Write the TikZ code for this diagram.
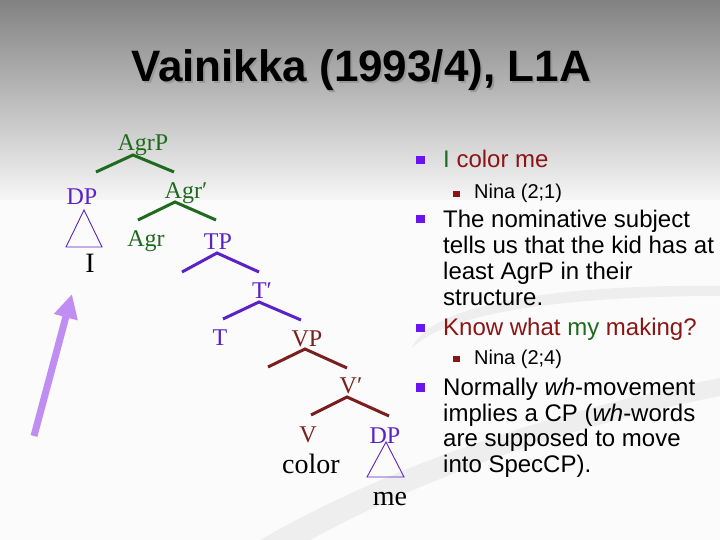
\documentclass[tikz,border=0pt]{standalone}
\usepackage{fontspec}
\setmainfont{Liberation Serif}
\newfontfamily\sansf{Liberation Sans}
\newfontfamily\serf{Liberation Serif}
\usetikzlibrary{arrows.meta}
\definecolor{tgreen}{HTML}{1E6B1E}
\definecolor{tpurple}{HTML}{5B22C6}
\definecolor{tred}{HTML}{7A1E1E}
\definecolor{bpurple}{HTML}{6A14F0}
\definecolor{bred}{HTML}{8B1515}
\definecolor{lilac}{HTML}{C08EF2}
\definecolor{swirlc}{HTML}{EEEEEE}
\definecolor{bgtop}{HTML}{828282}
\definecolor{bgbot}{HTML}{F6F6F6}
\definecolor{bgbase}{HTML}{FBFBFB}
\begin{document}
\begin{tikzpicture}[x=1pt,y=-1pt,
  lab/.style={font=\serf\fontsize{24}{24}\selectfont, inner sep=0pt, anchor=base},
  leaf/.style={font=\serf\fontsize{28}{28}\selectfont, inner sep=0pt, anchor=base, text=black},
  branch/.style={line width=3pt},
  tri/.style={draw=tpurple, line width=0.9pt, line join=miter},
  txt/.style={font=\sansf\fontsize{24}{26}\selectfont, inner sep=0pt, anchor=base west},
  subtxt/.style={font=\sansf\fontsize{20}{22}\selectfont, inner sep=0pt, anchor=base west},
  bul/.style={fill=bpurple, minimum size=8.5pt, inner sep=0pt},
  subbul/.style={fill=bred, minimum size=6.5pt, inner sep=0pt}]
% background
\useasboundingbox (0,0) rectangle (720,540);
\fill[bgbase] (0,0) rectangle (720,540);
\shade[top color=bgtop, bottom color=bgbot] (0,0) rectangle (720,200);
\fill[swirlc] (412,348) .. controls (430,302) and (570,284) .. (720,286) -- (720,296) .. controls (580,296) and (450,310) .. (412,348) -- cycle;
\fill[swirlc] (260,540) .. controls (400,460) and (560,410) .. (720,378) -- (720,396) .. controls (560,428) and (420,480) .. (310,540) -- cycle;
% title
\node[font=\sansf\bfseries\fontsize{44}{44}\selectfont, text=black!40, anchor=base, inner sep=0pt] (titleshadow) at (363,84) {Vainikka (1993/4), L1A};
\node[font=\sansf\bfseries\fontsize{44}{44}\selectfont, text=black, anchor=base, inner sep=0pt] (title) at (361,82) {Vainikka (1993/4), L1A};
% tree labels
\node[lab, text=tgreen] (agrp) at (143,151) {AgrP};
\node[lab, text=tpurple] (dp1) at (82,205) {DP};
\node[lab, text=tgreen] (agrbar) at (186,199) {Agr′};
\node[lab, text=tgreen] (agr) at (146,247) {Agr};
\node[lab, text=tpurple] (tp) at (218,249) {TP};
\node[lab, text=tpurple] (tbar) at (262,298) {T′};
\node[lab, text=tpurple] (t) at (220,345) {T};
\node[lab, text=tred] (vp) at (307,346) {VP};
\node[lab, text=tred] (vbar) at (351,393) {V′};
\node[lab, text=tred] (v) at (308,442) {V};
\node[lab, text=tpurple] (dp2) at (385,443) {DP};
\node[leaf] (i) at (90,272) {I};
\node[leaf] (color) at (311,473) {color};
\node[leaf] (me) at (390,505) {me};
% branch points
\coordinate (agrp-a) at (133,155); \coordinate (agrp-l) at (96,172); \coordinate (agrp-r) at (174,172);
\coordinate (agrbar-a) at (175,202); \coordinate (agrbar-l) at (138,220); \coordinate (agrbar-r) at (216,220);
\coordinate (tp-a) at (217,253); \coordinate (tp-l) at (182,272); \coordinate (tp-r) at (259,272);
\coordinate (tbar-a) at (259,302); \coordinate (tbar-l) at (223,319); \coordinate (tbar-r) at (301,320);
\coordinate (vp-a) at (305,349); \coordinate (vp-l) at (268,367); \coordinate (vp-r) at (347,368);
\coordinate (vbar-a) at (347,397); \coordinate (vbar-l) at (311,415); \coordinate (vbar-r) at (389,416);
\draw[branch, tgreen] (agrp-l) -- (agrp-a) -- (agrp-r);
\draw[branch, tgreen] (agrbar-l) -- (agrbar-a) -- (agrbar-r);
\draw[branch, tpurple] (tp-l) -- (tp-a) -- (tp-r);
\draw[branch, tpurple] (tbar-l) -- (tbar-a) -- (tbar-r);
\draw[branch, tred] (vp-l) -- (vp-a) -- (vp-r);
\draw[branch, tred] (vbar-l) -- (vbar-a) -- (vbar-r);
% triangles
\coordinate (tri1-a) at (84,210); \coordinate (tri1-l) at (66,247); \coordinate (tri1-r) at (102,247);
\draw[tri] (tri1-a) -- (tri1-l) -- (tri1-r) -- cycle;
\coordinate (tri2-a) at (386,442); \coordinate (tri2-l) at (367,477); \coordinate (tri2-r) at (404,477);
\draw[tri] (tri2-a) -- (tri2-l) -- (tri2-r) -- cycle;
% arrow
\coordinate (arr-tail) at (34,436);
\coordinate (arr-tip) at (72,294);
\draw[lilac, line width=7pt, -{Triangle[length=24pt,width=23pt]}] (arr-tail) -- (arr-tip);
% bullets
\node[bul] (b1) at (420.5,160) {};
\node[txt] (t1) at (443,168) {\textcolor{tgreen}{I} \textcolor{bred}{color me}};
\node[subbul] (s1) at (456.5,194) {};
\node[subtxt] (st1) at (474,199) {Nina (2;1)};
\node[bul] (b2) at (420.5,219) {};
\node[txt] (t2a) at (443,227) {The nominative subject};
\node[txt] (t2b) at (443,253) {tells us that the kid has at};
\node[txt] (t2c) at (443,279) {least AgrP in their};
\node[txt] (t2d) at (443,305) {structure.};
\node[bul] (b3) at (420.5,328) {};
\node[txt, text=bred] (t3) at (443,335) {Know what \textcolor{tgreen}{my} making?};
\node[subbul] (s2) at (456.5,359) {};
\node[subtxt] (st2) at (474,364) {Nina (2;4)};
\node[bul] (b4) at (420.5,387.5) {};
\node[txt] (t4a) at (443,395) {Normally \textit{wh}-movement};
\node[txt] (t4b) at (443,421) {implies a CP (\textit{wh}-words};
\node[txt] (t4c) at (443,446) {are supposed to move};
\node[txt] (t4d) at (443,472) {into SpecCP).};
\end{tikzpicture}
\end{document}
